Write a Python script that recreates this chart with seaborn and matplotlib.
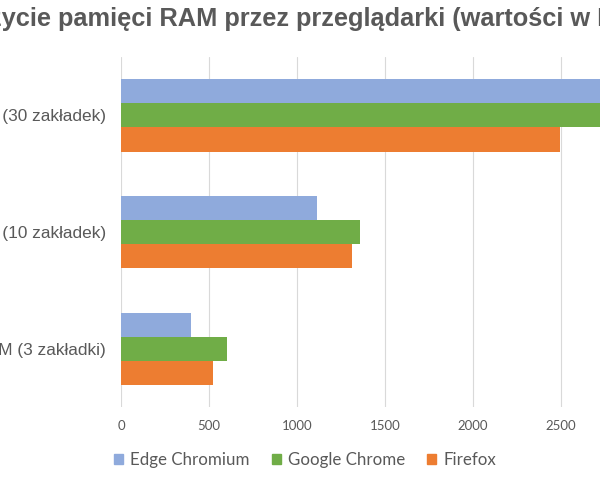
import matplotlib
matplotlib.use("Agg")
import matplotlib.pyplot as plt
import pandas as pd
import seaborn as sns

# dane (MB)
categories = ["Zużycie RAM (30 zakładek)", "Zużycie RAM (10 zakładek)", "Zużycie RAM (3 zakładki)"]
browsers = ["Edge Chromium", "Google Chrome", "Firefox"]
edge = [2950, 1115, 400]
chrome = [3050, 1360, 600]
firefox = [2495, 1315, 520]
x_ticks = [0, 500, 1000, 1500, 2000, 2500]

colors = ["#8FAADC", "#70AD47", "#ED7D31"]
GRAY = "#595959"

df = pd.DataFrame({
    "kategoria": categories * 3,
    "przeglądarka": [b for b in browsers for _ in categories],
    "MB": edge + chrome + firefox,
})

sns.set_style("white")
plt.rcParams["font.family"] = ["Liberation Sans", "DejaVu Sans"]

fig = plt.figure(figsize=(6, 4.8), dpi=100)
# obszar wykresu: 0 MB przy 121 px, 500 MB = 88 px, prawa krawędź = brzeg obrazka
ax = fig.add_axes([121 / 600, 73 / 480, 479 / 600, 350 / 480])

sns.barplot(
    data=df, y="kategoria", x="MB", hue="przeglądarka",
    order=categories, hue_order=browsers, palette=colors,
    orient="h", width=0.62, saturation=1, linewidth=0, ax=ax, legend=False,
)

ax.set_xlim(0, 479 / 88 * 500)
ax.set_xticks(x_ticks)
ax.grid(axis="x", color="#D9D9D9", linewidth=0.8)
ax.set_axisbelow(True)
for s in ax.spines.values():
    s.set_visible(False)
ax.set_xlabel("")
ax.set_ylabel("")
ax.tick_params(axis="x", length=0, pad=9, labelsize=9.5, labelcolor=GRAY)
ax.tick_params(axis="y", length=0, pad=11, labelsize=12.4, labelcolor=GRAY)
for lbl in ax.get_xticklabels():
    lbl.set_family(["Lato", "DejaVu Sans"])

fig.text(0.503, 1 - 19 / 480, "Zużycie pamięci RAM przez przeglądarki (wartości w MB)",
         ha="center", va="center", fontsize=18.3, fontweight="bold", color=GRAY)

handles = [plt.Rectangle((0, 0), 1, 1, color=c) for c in colors]
fig.legend(handles, browsers, loc="center", bbox_to_anchor=(305 / 600, 1 - 460 / 480),
           ncol=3, frameon=False, handlelength=0.55, handleheight=0.55,
           handletextpad=0.4, columnspacing=1.3,
           prop={"family": ["Lato", "DejaVu Sans"], "size": 12.2}, labelcolor=GRAY)

fig.savefig("out.png", dpi=100, facecolor="white")
